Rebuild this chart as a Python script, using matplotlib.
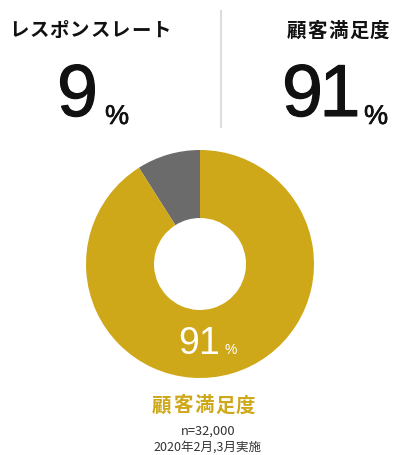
import matplotlib
matplotlib.use("Agg")
import matplotlib.pyplot as plt
import matplotlib.patheffects as pe

plt.rcParams['font.family'] = ['Noto Sans CJK JP', 'DejaVu Sans']
NUM_FONT = ['Liberation Sans', 'DejaVu Sans']

# data
labels = ['レスポンスレート', '顧客満足度']
values = [9, 91]
colors = ['#6b6b6b', '#cfa819']
sample_note = 'n=32,000'
period_note = '2020年2月,3月実施'

W, H = 400, 456
PX = 100 / 72  # pixels per point
fig = plt.figure(figsize=(W / 100, H / 100), dpi=100)
ax = fig.add_axes([0, 0, 1, 1])


def tracked(x, y, s, adv, align='left', **kw):
    # draw text one char at a time with a fixed advance (letter spacing)
    total = adv * len(s)
    if align == 'center':
        x -= total / 2
    elif align == 'right':
        x -= total
    for i, ch in enumerate(s):
        ax.text(x + i * adv, y, ch, ha='left', va='baseline', **kw)


# donut, gray slice first going counterclockwise from 12 o'clock
ax.pie(values, colors=colors, startangle=90, counterclock=True,
       center=(200, H - 265), radius=114,
       wedgeprops=dict(width=68, linewidth=0))
ax.set_xlim(0, W)
ax.set_ylim(0, H)
ax.set_aspect('equal')
ax.axis('off')

# headline titles
title_adv = 14 * PX + 1.5
tracked(9, H - 36.5, labels[0], 14 * PX + 0.9, fontsize=14,
        fontweight='bold', color='#111111')
tracked(391, H - 36.5, labels[1], title_adv, align='right', fontsize=14,
        fontweight='bold', color='#111111')
ax.plot([221, 221], [H - 12, H - 128], color='#dddddd', lw=1.5)

# big numbers
bold = [pe.withStroke(linewidth=0.8, foreground='#111111')]
big_adv = 0.556 * 53 * PX - 3.5
tracked(57, H - 117, f'{values[0]}', big_adv, fontsize=53, family=NUM_FONT,
        color='#111111', path_effects=bold)
ax.text(105, H - 125, '%', ha='left', va='baseline', fontsize=19.5,
        family=NUM_FONT, color='#111111',
        path_effects=[pe.withStroke(linewidth=0.5, foreground='#111111')])
tracked(282, H - 117, f'{values[1]}', big_adv, fontsize=53, family=NUM_FONT,
        color='#111111', path_effects=bold)
ax.text(364, H - 125, '%', ha='left', va='baseline', fontsize=19.5,
        family=NUM_FONT, color='#111111',
        path_effects=[pe.withStroke(linewidth=0.5, foreground='#111111')])

# label inside the donut
tracked(178.5, H - 354, f'{values[1]}', 0.556 * 27 * PX - 1.5, fontsize=27,
        family=NUM_FONT, color='white')
ax.text(224.5, H - 354, '%', ha='left', va='baseline', fontsize=10,
        family=NUM_FONT, color='white')

# caption
tracked(204.5, H - 411.5, labels[1], title_adv, align='center', fontsize=14,
        fontweight='bold', color=colors[1])
ax.text(208, H - 431, sample_note, ha='center', va='center', fontsize=9.3,
        color='#333333')
ax.text(207, H - 447, period_note, ha='center', va='center', fontsize=9,
        color='#333333')

fig.savefig('out.png', dpi=100)
